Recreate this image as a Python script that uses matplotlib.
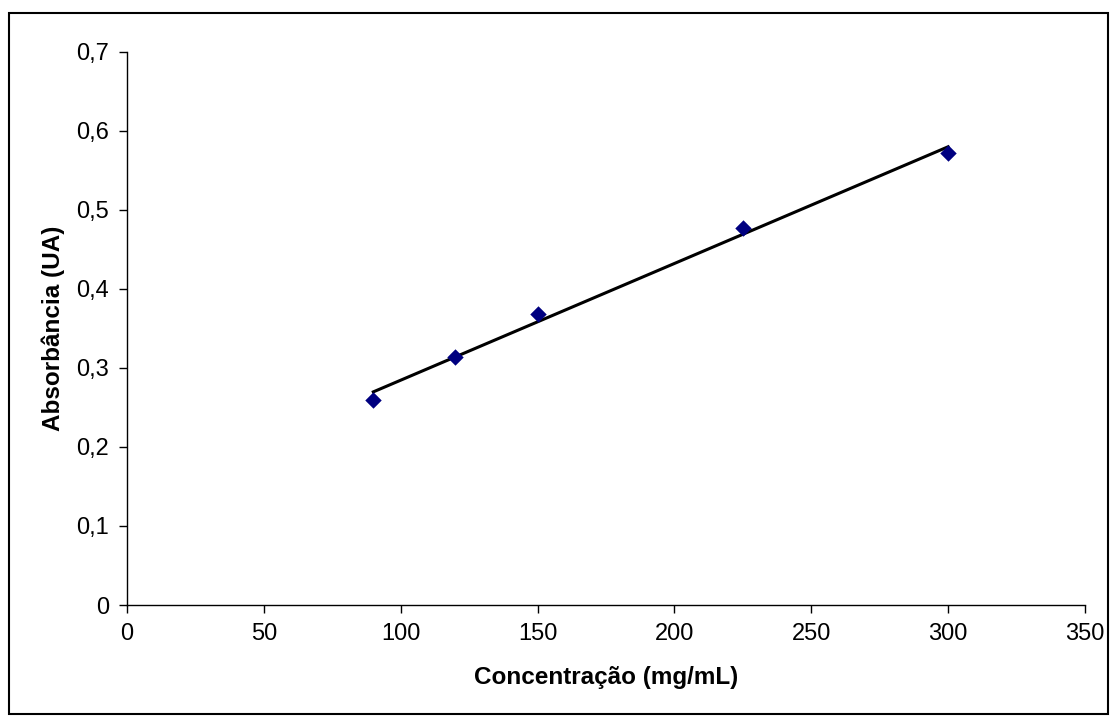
import numpy as np
import matplotlib.pyplot as plt
from matplotlib.ticker import FuncFormatter, MultipleLocator
from matplotlib.patches import Rectangle

plt.rcParams['font.family'] = ['Liberation Sans', 'DejaVu Sans']

# Calibration data
concentracao = [90, 120, 150, 225, 300]
absorbancia = [0.260, 0.314, 0.368, 0.477, 0.572]

x = np.array(concentracao)
y = np.array(absorbancia)
slope, intercept = np.polyfit(x, y, 1)

fig = plt.figure(figsize=(11.1, 7.16), dpi=100)
fig.patches.append(Rectangle((0.008, 0.003), 0.990, 0.979, transform=fig.transFigure,
                             fill=False, edgecolor='black', linewidth=1.5))
ax = fig.add_axes([0.1144, 0.155, 0.863, 0.7726])

# linear trendline
ax.plot([x.min(), x.max()], [slope * x.min() + intercept, slope * x.max() + intercept],
        color='black', linewidth=2.2, zorder=2)
ax.scatter(x, y, marker='D', s=70, color='#000080', zorder=3, linewidths=0)

ax.set_xlim(0, 350)
ax.set_ylim(0, 0.7)
ax.xaxis.set_major_locator(MultipleLocator(50))
ax.yaxis.set_major_locator(MultipleLocator(0.1))
ax.yaxis.set_major_formatter(FuncFormatter(lambda v, p: ('%g' % round(v, 1)).replace('.', ',')))

for side in ['top', 'right']:
    ax.spines[side].set_visible(False)
for side in ['left', 'bottom']:
    ax.spines[side].set_linewidth(1.0)
ax.tick_params(direction='out', length=6, width=1.0, labelsize=17, pad=7)

ax.set_xlabel('Concentração (mg/mL)', fontsize=17.5, fontweight='bold', labelpad=15)
ax.set_ylabel('Absorbância (UA)', fontsize=17.5, fontweight='bold', labelpad=8)

fig.savefig('out.png', dpi=100)
